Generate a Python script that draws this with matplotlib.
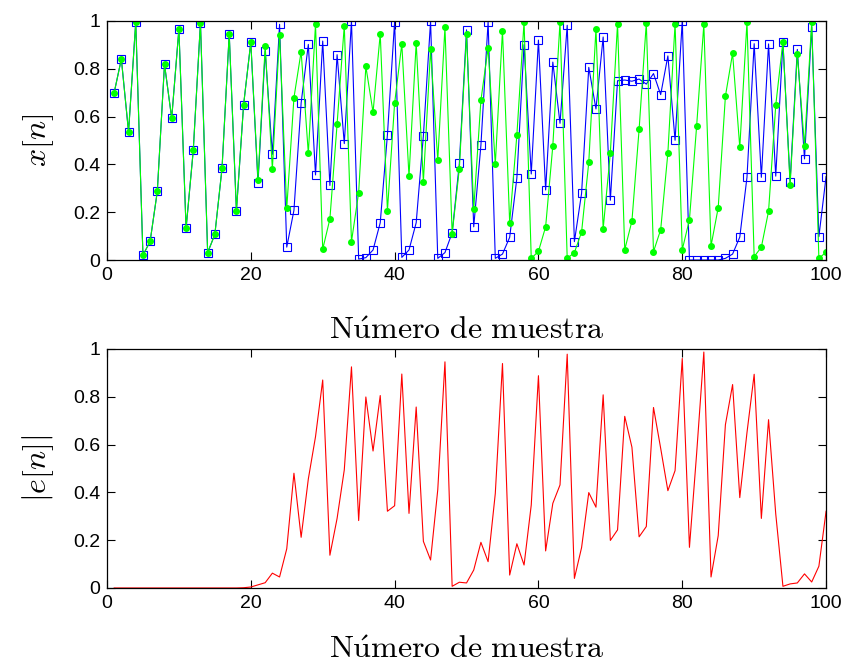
import matplotlib
matplotlib.use("Agg", force=True)

import matplotlib.pyplot as plt
import numpy as np

# sample index
n = list(range(1, 101))

# blue sequence (squares)
x_blue = [
    0.700, 0.841, 0.536, 0.996, 0.020, 0.078, 0.287, 0.819, 0.593, 0.966,
    0.132, 0.459, 0.993, 0.031, 0.107, 0.384, 0.946, 0.205, 0.650, 0.911,
    0.322, 0.874, 0.442, 0.986, 0.054, 0.208, 0.657, 0.902, 0.356, 0.916,
    0.312, 0.859, 0.487, 1.000, 0.004, 0.010, 0.042, 0.156, 0.524, 0.997,
    0.011, 0.042, 0.156, 0.520, 0.999, 0.007, 0.031, 0.114, 0.404, 0.963,
    0.139, 0.480, 0.997, 0.007, 0.025, 0.095, 0.343, 0.901, 0.360, 0.920,
    0.293, 0.828, 0.572, 0.982, 0.077, 0.279, 0.806, 0.632, 0.933, 0.250,
    0.750, 0.753, 0.748, 0.757, 0.736, 0.780, 0.692, 0.854, 0.501, 1.000,
    0.000, 0.000, 0.000, 0.000, 0.000, 0.007, 0.025, 0.096, 0.346, 0.905,
    0.346, 0.904, 0.351, 0.911, 0.328, 0.881, 0.423, 0.976, 0.098, 0.349,
]

# green sequence (dots)
x_green = [
    0.700, 0.841, 0.536, 0.996, 0.020, 0.078, 0.287, 0.819, 0.593, 0.966,
    0.132, 0.459, 0.993, 0.031, 0.107, 0.384, 0.946, 0.205, 0.650, 0.911,
    0.336, 0.894, 0.381, 0.943, 0.216, 0.679, 0.872, 0.446, 0.987, 0.045,
    0.172, 0.569, 0.981, 0.077, 0.282, 0.810, 0.618, 0.946, 0.206, 0.656,
    0.904, 0.350, 0.909, 0.328, 0.881, 0.417, 0.974, 0.110, 0.382, 0.945,
    0.212, 0.668, 0.888, 0.400, 0.960, 0.156, 0.523, 0.997, 0.007, 0.036,
    0.139, 0.478, 0.997, 0.007, 0.031, 0.117, 0.409, 0.968, 0.130, 0.448,
    0.989, 0.043, 0.163, 0.547, 0.992, 0.035, 0.127, 0.448, 0.989, 0.043,
    0.169, 0.561, 0.986, 0.059, 0.219, 0.685, 0.865, 0.471, 0.996, 0.014,
    0.054, 0.204, 0.647, 0.914, 0.314, 0.862, 0.477, 0.997, 0.007, 0.033,
]

# absolute error |e[n]|
e_abs = [
    0.000, 0.000, 0.000, 0.000, 0.000, 0.000, 0.000, 0.000, 0.000, 0.000,
    0.000, 0.000, 0.000, 0.000, 0.000, 0.000, 0.000, 0.000, 0.001, 0.004,
    0.013, 0.022, 0.062, 0.046, 0.164, 0.480, 0.212, 0.456, 0.633, 0.870,
    0.137, 0.291, 0.494, 0.925, 0.282, 0.799, 0.573, 0.805, 0.321, 0.344,
    0.895, 0.312, 0.757, 0.195, 0.117, 0.411, 0.946, 0.007, 0.024, 0.021,
    0.075, 0.191, 0.110, 0.395, 0.939, 0.054, 0.185, 0.096, 0.347, 0.888,
    0.155, 0.354, 0.431, 0.978, 0.040, 0.169, 0.399, 0.338, 0.808, 0.199,
    0.243, 0.718, 0.589, 0.214, 0.257, 0.755, 0.584, 0.407, 0.491, 0.960,
    0.170, 0.563, 0.987, 0.046, 0.219, 0.683, 0.851, 0.378, 0.650, 0.894,
    0.291, 0.704, 0.310, 0.007, 0.017, 0.021, 0.059, 0.025, 0.091, 0.321,
]

x_ticks = [0, 20, 40, 60, 80, 100]
y_ticks = [0, 0.2, 0.4, 0.6, 0.8, 1]
y_tick_labels = ["0", "0.2", "0.4", "0.6", "0.8", "1"]
x_label = r"$\mathrm{N\acute{u}mero\ de\ muestra}$"


def style_axes(ax, ylabel, xpad):
    ax.set_xlim(0, 100)
    ax.set_ylim(0, 1)
    ax.set_xticks(x_ticks)
    ax.set_xticklabels([str(t) for t in x_ticks])
    ax.set_yticks(y_ticks)
    ax.set_yticklabels(y_tick_labels)
    ax.tick_params(direction="in", length=6, width=0.8, top=True, right=True,
                   labelsize=14, pad=5)
    for lab in ax.get_xticklabels() + ax.get_yticklabels():
        lab.set_fontfamily("Liberation Sans")
    for sp in ax.spines.values():
        sp.set_linewidth(0.9)
    ax.set_xlabel(x_label, fontsize=23, labelpad=xpad)
    ax.set_ylabel(ylabel, fontsize=23, labelpad=12)


plt.rcParams["mathtext.fontset"] = "cm"

fig = plt.figure(figsize=(8.47, 6.64), dpi=100)
ax1 = fig.add_axes([0.1263, 0.6084, 0.849, 0.360])
ax2 = fig.add_axes([0.1263, 0.1145, 0.849, 0.360])

ax1.plot(n, x_blue, color="#0000ff", linewidth=0.8, marker="s", markersize=6,
         markerfacecolor="none", markeredgecolor="#0000ff", markeredgewidth=0.8)
ax1.plot(n, x_green, color="#00ff00", linewidth=0.8, marker="o", markersize=4,
         markerfacecolor="#00ff00", markeredgecolor="#00ff00")
style_axes(ax1, r"$x[n]$", 22)

ax2.plot(n, e_abs, color="#ff0000", linewidth=0.8)
style_axes(ax2, r"$|e[n]|$", 16)

fig.savefig("out.png", dpi=100)
